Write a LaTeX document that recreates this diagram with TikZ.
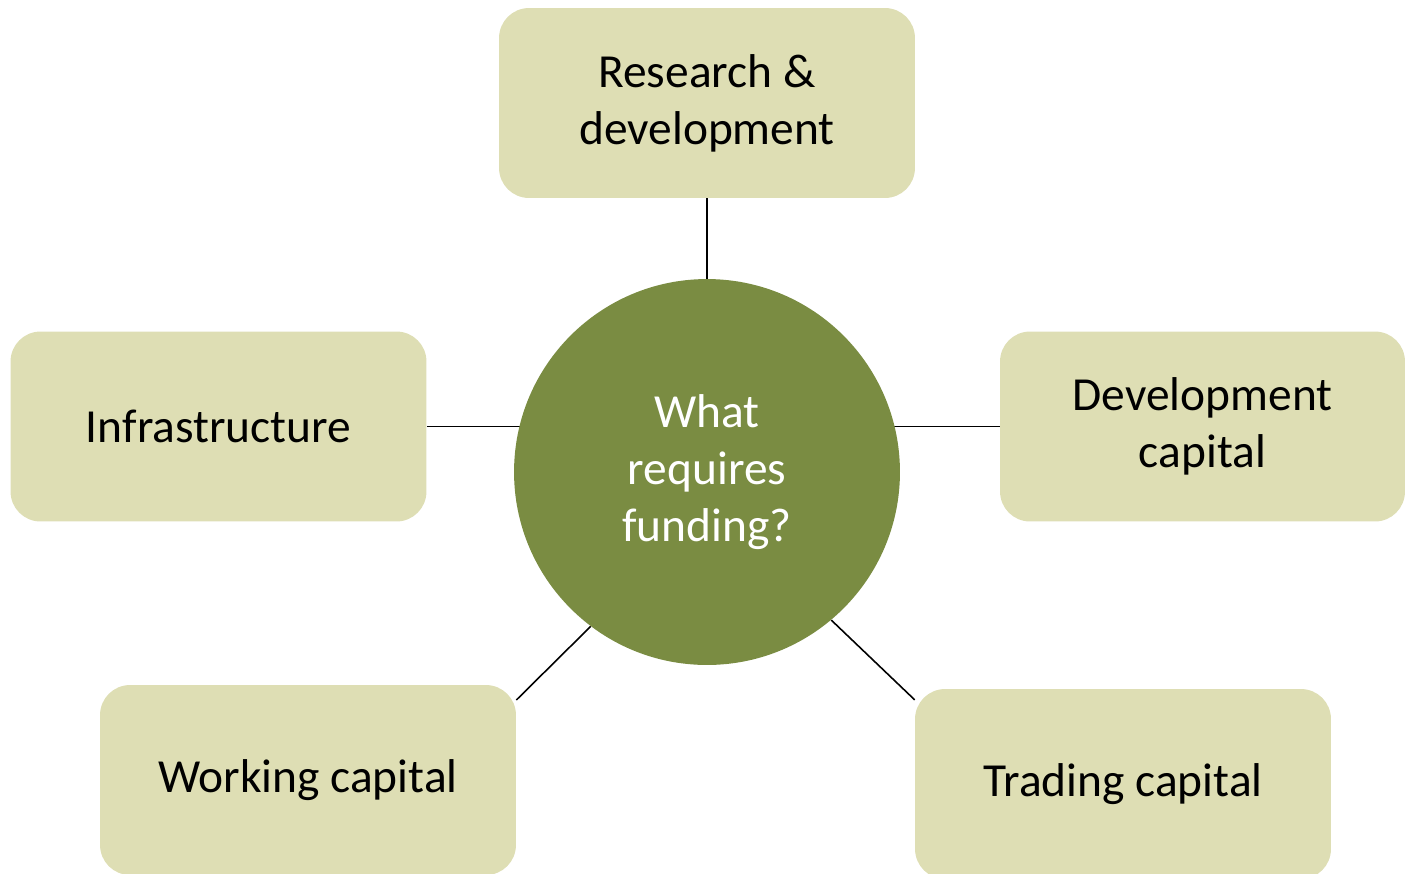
\documentclass[tikz,border=0pt]{standalone}
\usepackage{fontspec}
\setmainfont{Carlito}
\usepackage{tikz}
\usetikzlibrary{backgrounds}

\definecolor{boxfill}{HTML}{DEDEB4}
\definecolor{hubfill}{HTML}{7A8C42}

\tikzset{
  topic/.style={rectangle, rounded corners=0.6cm, fill=boxfill, draw=none,
    minimum width=8.32cm, minimum height=3.8cm, inner sep=0pt, align=center,
    font=\fontsize{27}{32.5}\selectfont},
  hub/.style={circle, fill=hubfill, draw=none, minimum size=7.72cm, inner sep=0pt,
    align=center, text=white, font=\fontsize{27}{32.5}\selectfont},
  link/.style={draw=black, line width=0.9pt}
}

\begin{document}
\begin{tikzpicture}[x=0.02cm,y=-0.02cm]
   \useasboundingbox (0,0) rectangle (1406,873);

   \node[hub] (what) at (707,472) {What\\requires\\funding?};

   \node[topic] (rd) at (707,103) {Research \&\\development};
   \node[topic] (infra) at (218.5,426.5) {Infrastructure};
   \node[topic, minimum width=8.1cm] (devcap) at (1202.5,426.5) {Development\\capital};
   \node[topic] (work) at (308,780) {Working capital};
   \node[topic] (trade) at (1123,784) {Trading capital};

   % connectors sit behind the hub
   \begin{scope}[on background layer]
   \draw[link] (rd.south) -- (what.center);
   \draw[link] (infra.east) -- (infra.east -| what.center);
   \draw[link] (devcap.west) -- (devcap.west -| what.center);
   \draw[link] (work.21) -- (what.233);
   \draw[link] (trade.158) -- (what.310);
   \end{scope}
\end{tikzpicture}
\end{document}
